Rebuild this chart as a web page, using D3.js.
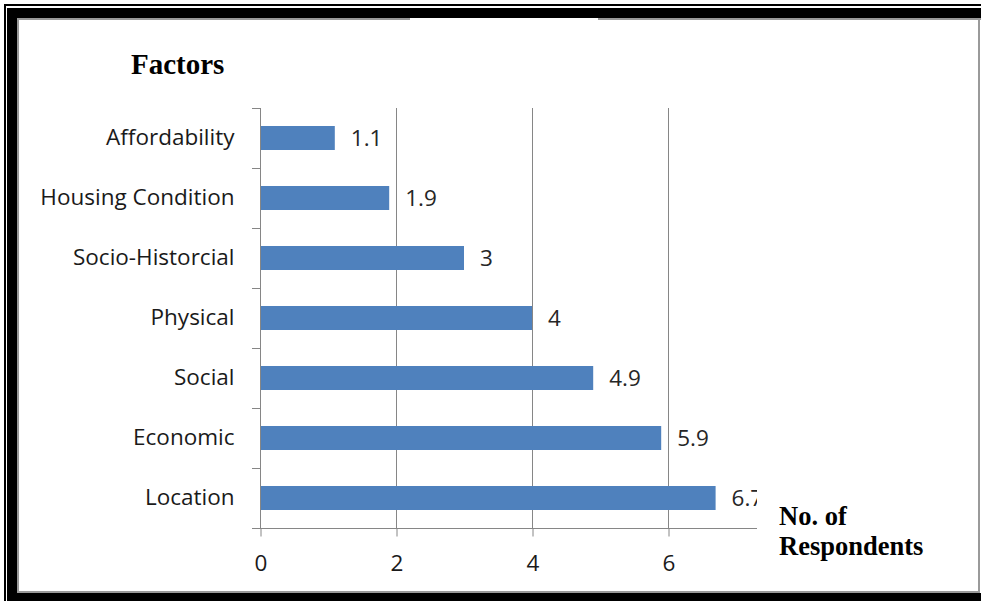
<!DOCTYPE html>
<html>
<head>
<meta charset="utf-8">
<script src="https://cdn.jsdelivr.net/npm/d3@7"></script>
<style>
  html, body { margin: 0; padding: 0; background: #fff; }
  svg { display: block; }
</style>
</head>
<body>
<svg id="chart" width="981" height="601"></svg>
<script>
// Factors and their scores (number of respondents)
const categories = ["Affordability", "Housing Condition", "Socio-Historcial", "Physical", "Social", "Economic", "Location"];
const values = [1.1, 1.9, 3, 4, 4.9, 5.9, 6.7];
const valueLabels = ["1.1", "1.9", "3", "4", "4.9", "5.9", "6.7"];
const xTicks = [0, 2, 4, 6];
const xMax = 8;

const svg = d3.select("#chart");
const labelFont = "'Open Sans', Lato, sans-serif";
const labelSize = 22.5;

// Frame: thin outer rule, heavy black band, thin grey inner rule
svg.append("rect").attr("x", 4).attr("y", 4).attr("width", 990).attr("height", 2).attr("fill", "#000");
svg.append("rect").attr("x", 4).attr("y", 4).attr("width", 2).attr("height", 610).attr("fill", "#000");
svg.append("rect").attr("x", 7).attr("y", 8).attr("width", 990).attr("height", 10).attr("fill", "#000");
svg.append("rect").attr("x", 7).attr("y", 8).attr("width", 10).attr("height", 610).attr("fill", "#000");
svg.append("rect").attr("x", 7).attr("y", 593).attr("width", 990).attr("height", 10).attr("fill", "#000");
const grey = "#9a9a9a";
svg.append("rect").attr("x", 17).attr("y", 18).attr("width", 2).attr("height", 575).attr("fill", grey);
svg.append("rect").attr("x", 17).attr("y", 18).attr("width", 393).attr("height", 2).attr("fill", grey);
svg.append("rect").attr("x", 598).attr("y", 18).attr("width", 383).attr("height", 2).attr("fill", grey);
svg.append("rect").attr("x", 978).attr("y", 18).attr("width", 2).attr("height", 575).attr("fill", grey);
svg.append("rect").attr("x", 17).attr("y", 591).attr("width", 963).attr("height", 2).attr("fill", grey);

// Plot geometry
const plotLeft = 260, plotTop = 108, plotBottom = 528;
const x = d3.scaleLinear().domain([0, xMax]).range([plotLeft, plotLeft + xMax * 68]);
const y = d3.scaleBand().domain(categories).range([plotTop, plotBottom]).paddingInner(0.6).paddingOuter(0.3);
const yEdges = d3.scaleLinear().domain([0, categories.length]).range([plotTop, plotBottom]);

const g = svg.append("g");

// Vertical gridlines
g.selectAll("line.grid").data(xTicks.filter(d => d > 0)).join("line")
  .attr("class", "grid")
  .attr("x1", d => x(d) + 0.5).attr("x2", d => x(d) + 0.5)
  .attr("y1", plotTop).attr("y2", plotBottom)
  .attr("stroke", "#868686").attr("stroke-width", 1);

// Bars
g.selectAll("rect.bar").data(categories).join("rect")
  .attr("class", "bar")
  .attr("x", x(0) + 1)
  .attr("y", d => y(d))
  .attr("width", (d, i) => x(values[i]) - x(0) - 1)
  .attr("height", y.bandwidth())
  .attr("fill", "#4f81bd");

// Value labels
g.selectAll("text.val").data(categories).join("text")
  .attr("class", "val")
  .attr("x", (d, i) => x(values[i]) + 16)
  .attr("y", d => y(d) + y.bandwidth() / 2)
  .attr("dy", "0.36em")
  .attr("font-family", labelFont)
  .attr("font-size", labelSize)
  .attr("fill", "#262626")
  .text((d, i) => valueLabels[i]);

// Category axis (left)
const yAxis = d3.axisLeft(y).tickSize(0).tickPadding(26);
const ya = g.append("g").attr("transform", `translate(${plotLeft + 0.5},0)`).call(yAxis);
ya.select(".domain").attr("stroke", "#868686").attr("d", `M0,${plotTop}V${plotBottom}`);
ya.selectAll("text")
  .attr("font-family", labelFont)
  .attr("font-size", labelSize)
  .attr("fill", "#1a1a1a");
g.selectAll("line.ytick").data(d3.range(categories.length + 1)).join("line")
  .attr("class", "ytick")
  .attr("x1", plotLeft - 8).attr("x2", plotLeft)
  .attr("y1", d => Math.round(yEdges(d)) + 0.5).attr("y2", d => Math.round(yEdges(d)) + 0.5)
  .attr("stroke", "#868686");

// Value axis (bottom)
const xAxis = d3.axisBottom(x).tickValues(xTicks).tickSize(8).tickPadding(19).tickFormat(d3.format("d"));
const xa = g.append("g").attr("transform", `translate(0.5,${plotBottom + 0.5})`).call(xAxis);
xa.select(".domain").attr("stroke", "#868686").attr("d", `M${plotLeft - 8},0H${x(xMax)}`);
xa.selectAll(".tick line").attr("stroke", "#868686");
xa.selectAll("text")
  .attr("font-family", labelFont)
  .attr("font-size", labelSize)
  .attr("fill", "#1a1a1a");

// Axis title text boxes
svg.append("text")
  .attr("x", 131).attr("y", 74)
  .attr("font-family", "'Liberation Serif', 'Times New Roman', serif")
  .attr("font-weight", "bold").attr("font-size", 29)
  .attr("fill", "#000")
  .text("Factors");

svg.append("rect")
  .attr("x", 757).attr("y", 490).attr("width", 200).attr("height", 78)
  .attr("fill", "#fff");
svg.append("text")
  .attr("x", 779).attr("y", 525)
  .attr("font-family", "'Liberation Serif', 'Times New Roman', serif")
  .attr("font-weight", "bold").attr("font-size", 26.5)
  .attr("fill", "#000")
  .text("No. of");
svg.append("text")
  .attr("x", 779).attr("y", 555)
  .attr("font-family", "'Liberation Serif', 'Times New Roman', serif")
  .attr("font-weight", "bold").attr("font-size", 26.5)
  .attr("fill", "#000")
  .text("Respondents");
</script>
</body>
</html>
